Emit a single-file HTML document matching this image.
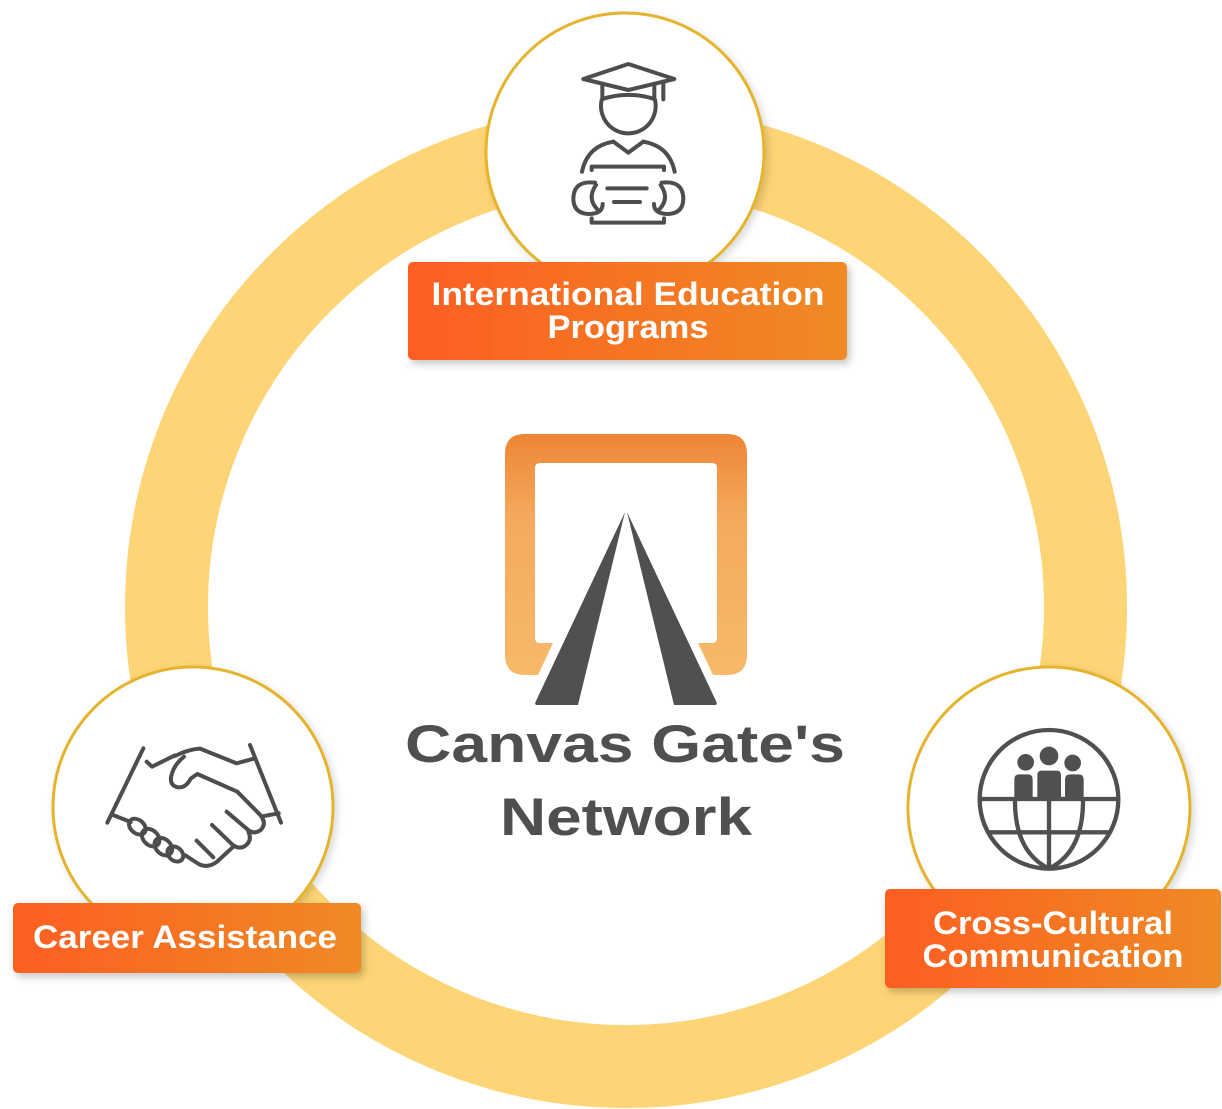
<!DOCTYPE html>
<html><head><meta charset="utf-8"><style>
html,body{margin:0;padding:0;background:#fff;}
svg{display:block;}
text{font-family:"Liberation Sans",Arial,sans-serif;font-weight:bold;}
</style></head><body>
<svg width="1222" height="1109" viewBox="0 0 1222 1109" xmlns="http://www.w3.org/2000/svg">
<defs>
<linearGradient id="lab" x1="0" y1="0" x2="1" y2="0">
<stop offset="0" stop-color="#FD5E23"/><stop offset="1" stop-color="#EF8A25"/>
</linearGradient>
<linearGradient id="logo" x1="0" y1="0" x2="0" y2="1">
<stop offset="0" stop-color="#EE8536"/><stop offset="0.35" stop-color="#F4AA5C"/><stop offset="1" stop-color="#F7B96A"/>
</linearGradient>
<filter id="sh" x="-20%" y="-20%" width="140%" height="140%">
<feDropShadow dx="3" dy="4" stdDeviation="4" flood-color="#000" flood-opacity="0.22"/>
</filter>
<filter id="csh" x="-20%" y="-20%" width="140%" height="140%">
<feDropShadow dx="3" dy="3" stdDeviation="4" flood-color="#000" flood-opacity="0.15"/>
</filter>
</defs>

<!-- ring -->
<circle cx="626" cy="607" r="459.5" fill="none" stroke="#FDD576" stroke-width="83"/>

<!-- circles -->
<circle cx="625" cy="152" r="139" fill="#fff" stroke="#E5B42D" stroke-width="3" filter="url(#csh)"/>
<circle cx="193" cy="807" r="140" fill="#fff" stroke="#E5B42D" stroke-width="3" filter="url(#csh)"/>
<circle cx="1049" cy="808" r="141" fill="#fff" stroke="#E5B42D" stroke-width="3" filter="url(#csh)"/>

<!-- graduation icon -->
<g transform="translate(480,0) scale(0.33333)" stroke="#4D4D4D" stroke-width="12" fill="none" stroke-linecap="round" stroke-linejoin="round">
<path d="M310,237 L445,192 L583,237 L445,270 Z"/>
<path d="M367,255 L367,297 Q445,272 523,297 L523,255"/>
<path d="M550,245 L550,298"/>
<path d="M365,300 A82,82 0 1 0 525,300"/>
<path d="M400,425 L445,458 L490,425"/>
<path d="M400,425 Q322,438 306,515"/>
<path d="M490,425 Q568,438 584,515"/>
<path d="M335,510 L335,500 L552,500 L552,510"/>
<path d="M335,655 L335,668 L552,668 L552,655"/>
<path d="M382,565 L500,565"/>
<path d="M402,606 L480,606"/>
<path d="M345,548 Q282,540 280,595 Q280,642 330,642 Q368,640 368,612"/>
<path d="M348,555 Q320,595 352,628"/>
<path d="M545,548 Q608,540 610,595 Q610,642 560,642 Q522,640 522,612"/>
<path d="M542,555 Q570,595 538,628"/>
</g>

<!-- handshake icon -->
<g transform="translate(0,650) scale(0.33333)" stroke="#4D4D4D" stroke-width="12" fill="none" stroke-linecap="round" stroke-linejoin="round">
<path d="M430,295 L322,518"/>
<path d="M750,285 L843,518"/>
<path d="M440,335 L456,350 L525,316"/>
<path d="M525,318 Q565,298 600,296 L710,340 L765,325"/>
<path d="M552,320 Q520,345 513,382 Q510,408 535,412 Q558,414 572,386 L592,372 L712,425 L780,494 Q802,520 782,540 Q760,556 740,536 L680,485"/>
<path d="M792,498 L836,490"/>
<path d="M745,545 Q758,572 735,588 Q715,600 695,582 L636,525"/>
<path d="M700,590 L650,636 Q622,656 596,642 L556,616"/>
<path d="M590,572 L640,622"/>
<path d="M336,494 L392,516"/>
<ellipse cx="412" cy="530" rx="28" ry="20" transform="rotate(40 412 530)"/>
<ellipse cx="452" cy="563" rx="30" ry="22" transform="rotate(45 452 563)"/>
<ellipse cx="490" cy="590" rx="30" ry="22" transform="rotate(45 490 590)"/>
<ellipse cx="526" cy="612" rx="26" ry="20" transform="rotate(40 526 612)"/>
</g>

<!-- globe icon -->
<g transform="translate(880,650) scale(0.33333)">
<g fill="#505050">
<circle cx="437" cy="337" r="25"/>
<path d="M403,445 V388 Q403,373 418,373 H443 Q458,373 458,388 V445 Z"/>
<circle cx="578" cy="339" r="25"/>
<path d="M555,445 V388 Q555,373 570,373 H596 Q611,373 611,388 V445 Z"/>
<path d="M468,447 V375 Q468,358 485,358 H530 Q547,358 547,375 V447 Z" stroke="#fff" stroke-width="8"/>
<circle cx="507" cy="318" r="28"/>
</g>
<g stroke="#505050" stroke-width="13" fill="none">
<circle cx="507" cy="448" r="208"/>
<path d="M300,447 H715"/>
<path d="M324,547 H690"/>
<path d="M507,447 V656"/>
<path d="M405,447 Q403,605 507,656"/>
<path d="M609,447 Q611,605 507,656"/>
</g>
</g>

<!-- logo -->
<path d="M525,434 H727 Q747,434 747,454 V655 Q747,675 727,675 H713 L698,643 H712 Q717,643 717,638 V468 Q717,463 712,463 H540 Q535,463 535,468 V638 Q535,643 540,643 H553 L538,675 H525 Q505,675 505,655 V454 Q505,434 525,434 Z" fill="url(#logo)"/>
<path d="M625,512 L578,705 L537,705 Q534,705 536,701 Z" fill="#505050"/>
<path d="M627,512 L674,705 L715,705 Q718,705 716,701 Z" fill="#505050"/>

<!-- title -->
<text x="625" y="762" font-size="53" fill="#4F4F4F" text-anchor="middle" textLength="440" lengthAdjust="spacingAndGlyphs">Canvas Gate's</text>
<text x="626" y="835" font-size="53" fill="#4F4F4F" text-anchor="middle" textLength="252" lengthAdjust="spacingAndGlyphs">Network</text>

<!-- labels -->
<rect x="408" y="262" width="439" height="98" rx="5" fill="url(#lab)" filter="url(#sh)"/>
<text x="628" y="305" font-size="32" fill="#fff" text-anchor="middle" textLength="393" lengthAdjust="spacingAndGlyphs">International Education</text>
<text x="628" y="338" font-size="32" fill="#fff" text-anchor="middle" textLength="161" lengthAdjust="spacingAndGlyphs">Programs</text>

<rect x="13" y="903" width="348" height="70" rx="5" fill="url(#lab)" filter="url(#sh)"/>
<text x="185" y="948" font-size="32" fill="#fff" text-anchor="middle" textLength="304" lengthAdjust="spacingAndGlyphs">Career Assistance</text>

<rect x="885" y="889" width="336" height="99" rx="5" fill="url(#lab)" filter="url(#sh)"/>
<text x="1053" y="934" font-size="32" fill="#fff" text-anchor="middle" textLength="240" lengthAdjust="spacingAndGlyphs">Cross-Cultural</text>
<text x="1053" y="967" font-size="32" fill="#fff" text-anchor="middle" textLength="261" lengthAdjust="spacingAndGlyphs">Communication</text>
</svg>
</body></html>
